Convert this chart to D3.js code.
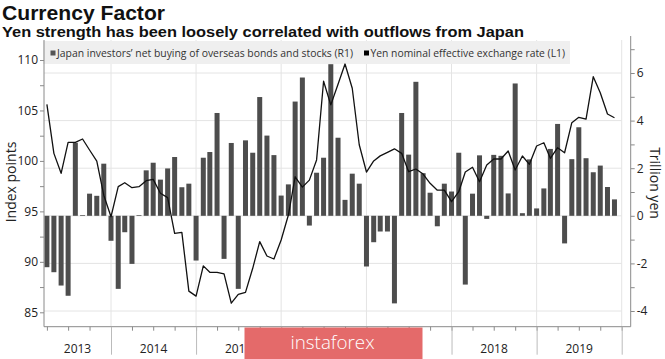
<!DOCTYPE html>
<html><head><meta charset="utf-8">
<script src="https://cdn.jsdelivr.net/npm/d3@7"></script>
<style>
body{margin:0;background:#fff;}
svg{display:block;font-family:"Open Sans","Liberation Sans",sans-serif;}
</style></head><body>
<svg id="chart" width="665" height="359"></svg>
<script>
// ---- data ----
const months = [
 "2013-04","2013-05","2013-06","2013-07","2013-08","2013-09","2013-10","2013-11","2013-12",
 "2014-01","2014-02","2014-03","2014-04","2014-05","2014-06","2014-07","2014-08","2014-09","2014-10","2014-11","2014-12",
 "2015-01","2015-02","2015-03","2015-04","2015-05","2015-06","2015-07","2015-08","2015-09","2015-10","2015-11","2015-12",
 "2016-01","2016-02","2016-03","2016-04","2016-05","2016-06","2016-07","2016-08","2016-09","2016-10","2016-11","2016-12",
 "2017-01","2017-02","2017-03","2017-04","2017-05","2017-06","2017-07","2017-08","2017-09","2017-10","2017-11","2017-12",
 "2018-01","2018-02","2018-03","2018-04","2018-05","2018-06","2018-07","2018-08","2018-09","2018-10","2018-11","2018-12",
 "2019-01","2019-02","2019-03","2019-04","2019-05","2019-06","2019-07","2019-08","2019-09","2019-10","2019-11","2019-12"
];
// Japan investors' net buying of overseas bonds and stocks (R1), trillion yen
const netBuying = [
 -2.16,-2.37,-2.93,-3.36,3.07,0.03,0.93,0.84,2.19,
 -1.05,-3.07,-0.69,-2.02,0.03,1.91,2.23,1.52,1.99,2.47,1.20,1.35,
 -1.88,2.44,2.68,4.32,-1.81,3.06,-3.07,3.17,2.65,4.99,3.37,2.55,
 0.85,1.32,4.80,5.81,-0.41,1.81,2.44,6.37,3.28,0.67,1.77,1.35,
 -2.13,-1.11,-0.66,-0.66,-3.68,4.32,2.57,5.63,1.79,0.97,-0.44,1.35,
 1.02,2.65,-2.89,0.93,2.54,-0.13,2.56,2.52,0.94,5.56,0.11,2.37,
 0.31,1.15,2.81,3.86,-1.16,2.38,3.72,2.42,1.83,2.11,1.21,0.69
];
// Yen nominal effective exchange rate (L1), index points
const yenIndex = [
 105.6,100.75,98.77,101.84,101.84,102.17,101.08,99.99,96.6,
 94.47,97.45,97.84,97.35,97.45,98.04,98.17,96.79,96.36,92.82,92.92,87.1,
 86.6,89.6,88.96,88.96,88.8,85.9,86.78,86.98,89.36,92.0,90.58,90.28,
 92.16,94.64,98.43,97.4,98.1,100.1,107.9,105.55,107.6,109.6,107.2,101.6,
 98.9,100.0,100.5,100.85,101.2,100.75,98.93,99.2,98.7,97.78,97.1,97.1,
 95.96,96.95,98.9,99.37,97.94,99.6,100.19,100.19,100.98,99.1,100.49,99.66,
 101.48,101.8,100.26,101.31,100.81,103.79,104.32,104.15,108.35,106.76,104.65,104.28
];
const leftTicks = [85,87.5,90,92.5,95,97.5,100,102.5,105,107.5,110];
const leftLabels = [85,90,95,100,105,110];
const rightTicks = [-4,-3,-2,-1,0,1,2,3,4,5,6,7];
const rightLabels = [-4,-2,0,2,4,6];
const years = ["2013","2014","2015","2016","2017","2018","2019"];
const title = "Currency Factor";
const subtitle = "Yen strength has been loosely correlated with outflows from Japan";
const legendLabels = ["Japan investors\u2019 net buying of overseas bonds and stocks (R1)",
                      "Yen nominal effective exchange rate (L1)"];

// ---- layout ----
const svg = d3.select("#chart");
const parse = d3.utcParse("%Y-%m");
const data = months.map((m,i)=>({date:parse(m), bar:netBuying[i], idx:yenIndex[i]}));

const plotLeft = 44, plotRight = 630.7, plotTop = 40, plotBottom = 326.7, gridRight = 621.7;
const x = d3.scaleUtc().domain([Date.UTC(2014,0,1), Date.UTC(2020,0,1)]).range([111, gridRight]);
const yL = d3.scaleLinear().domain([85,110]).range([312.3, 60]);
const yR = d3.scaleLinear().domain([-4,6]).range([311.0, 73.0]);

const gridColor = "#e4e4e4", axisColor = "#8a8a8a", textColor = "#222";
// watermark box (overlay in the reference image)
const wm = {x:244.5, y:327.5, w:178, h:31.5};

// gridlines
const g = svg.append("g");
g.selectAll("line.hg").data([-4,-2,0,2,4,6]).join("line")
  .attr("x1", plotLeft).attr("x2", gridRight)
  .attr("y1", d=>yR(d)).attr("y2", d=>yR(d))
  .attr("stroke", gridColor).attr("stroke-width", 1);
const yearStarts = d3.utcYear.range(new Date(Date.UTC(2014,0,1)), new Date(Date.UTC(2020,0,2)));
g.selectAll("line.vg").data(yearStarts).join("line")
  .attr("x1", d=>x(d)).attr("x2", d=>x(d))
  .attr("y1", plotTop).attr("y2", plotBottom)
  .attr("stroke", gridColor).attr("stroke-width", 1);

// legend
svg.append("rect").attr("x", 43).attr("y", 41).attr("width", 527).attr("height", 23).attr("fill", "#efefef");
svg.append("rect").attr("x", 50.5).attr("y", 50.5).attr("width", 5).attr("height", 5).attr("fill", "#555");
svg.append("text").attr("x", 57).attr("y", 56.5).attr("font-size", 10.5).attr("fill", "#333")
  .attr("textLength", 296).attr("lengthAdjust", "spacingAndGlyphs").text(legendLabels[0]);
svg.append("rect").attr("x", 364).attr("y", 50.5).attr("width", 5).attr("height", 5).attr("fill", "#000");
svg.append("text").attr("x", 370.5).attr("y", 56.5).attr("font-size", 10.5).attr("fill", "#333")
  .attr("textLength", 194.5).attr("lengthAdjust", "spacingAndGlyphs").text(legendLabels[1]);

// bars
const bw = 5;
svg.append("g").selectAll("rect").data(data).join("rect")
  .attr("x", d=>x(d.date)-bw/2).attr("width", bw)
  .attr("y", d=>Math.min(yR(0), yR(d.bar)))
  .attr("height", d=>Math.abs(yR(d.bar)-yR(0)))
  .attr("fill", "#4d4d4d");

// line
svg.append("path").datum(data)
  .attr("d", d3.line().x(d=>x(d.date)).y(d=>yL(d.idx)))
  .attr("fill", "none").attr("stroke", "#111").attr("stroke-width", 1.3).attr("stroke-linejoin","round");

// left axis
const la = svg.append("g").attr("transform", `translate(${plotLeft},0)`)
  .call(d3.axisLeft(yL).tickValues(leftTicks).tickSize(4).tickPadding(2)
    .tickFormat(d=>leftLabels.includes(d)?d3.format("d")(d):""));
la.select(".domain").remove();
la.append("line").attr("x1",0).attr("x2",0).attr("y1",plotTop).attr("y2",plotBottom).attr("stroke",axisColor);
la.selectAll(".tick line").attr("stroke", axisColor);
la.selectAll(".tick text").attr("fill", textColor).attr("font-size", 12).attr("font-family","Open Sans, sans-serif");

// right axis
const ra = svg.append("g").attr("transform", `translate(${plotRight},0)`)
  .call(d3.axisRight(yR).tickValues(rightTicks).tickSize(4).tickPadding(2)
    .tickFormat(d=>rightLabels.includes(d)?d3.format("d")(d).replace("\u2212","-"):""));
ra.select(".domain").remove();
ra.append("line").attr("x1",0).attr("x2",0).attr("y1",plotTop-4).attr("y2",plotBottom).attr("stroke",axisColor);
ra.selectAll(".tick line").attr("stroke", axisColor);
ra.selectAll(".tick text").attr("fill", textColor).attr("font-size", 12).attr("font-family","Open Sans, sans-serif");

// bottom axis
const xa = svg.append("g").attr("transform", `translate(0,${plotBottom})`);
const quarters = d3.utcMonth.every(3).range(new Date(Date.UTC(2013,3,1)), new Date(Date.UTC(2020,0,2)));
xa.call(d3.axisBottom(x).tickValues(quarters).tickSize(4).tickFormat(""));
xa.select(".domain").remove();
xa.selectAll(".tick line").attr("stroke", axisColor);
xa.append("line").attr("x1", plotLeft).attr("x2", plotRight).attr("y1",0).attr("y2",0).attr("stroke",axisColor);
const xa2 = svg.append("g").attr("transform", `translate(0,${plotBottom})`)
  .call(d3.axisBottom(x).tickValues(yearStarts).tickSize(28).tickFormat(""));
xa2.select(".domain").remove();
xa2.selectAll(".tick line").attr("stroke", "#bbb");
// year labels centred in visible span; labels wholly hidden under the watermark are not drawn
const yearPos = y=>{
  const a = Math.max(plotLeft, x(new Date(Date.UTC(+y,0,1))));
  const b = Math.min(gridRight, x(new Date(Date.UTC(+y+1,0,1))));
  return (a+b)/2;};
svg.append("g").selectAll("text").data(years.filter(y=>yearPos(y)-12 < wm.x || yearPos(y)+12 > wm.x+wm.w)).join("text")
  .attr("x", yearPos)
  .attr("y", 353).attr("text-anchor","middle").attr("font-size",12).attr("fill",textColor)
  .text(d=>d);

// axis titles
svg.append("text").attr("transform","translate(16,182) rotate(-90)").attr("text-anchor","middle")
  .attr("font-size",14).attr("fill",textColor).text("Index points");
svg.append("text").attr("transform","translate(650,183) rotate(90)").attr("text-anchor","middle")
  .attr("font-size",14).attr("fill",textColor).text("Trillion yen");

// titles
svg.append("text").attr("x",2).attr("y",20).attr("font-size",21).attr("font-weight","bold")
  .attr("fill","#111").attr("font-family","Liberation Sans, Arial, sans-serif")
  .attr("textLength",163).attr("lengthAdjust","spacingAndGlyphs").text(title);
svg.append("text").attr("x",2).attr("y",37).attr("font-size",15).attr("font-weight","bold")
  .attr("fill","#111").attr("font-family","Liberation Sans, Arial, sans-serif")
  .attr("textLength",522).attr("lengthAdjust","spacingAndGlyphs").text(subtitle);

// watermark overlay
svg.append("rect").attr("x",wm.x).attr("y",wm.y).attr("width",wm.w).attr("height",wm.h).attr("fill","#e46a6a");
svg.append("text").attr("x",290.5).attr("y",349).attr("font-size",19).attr("font-weight",300)
  .attr("fill","#fff").attr("font-family","Open Sans, Lato, sans-serif")
  .attr("textLength",84).attr("lengthAdjust","spacingAndGlyphs").text("instaforex");
</script>
</body></html>
